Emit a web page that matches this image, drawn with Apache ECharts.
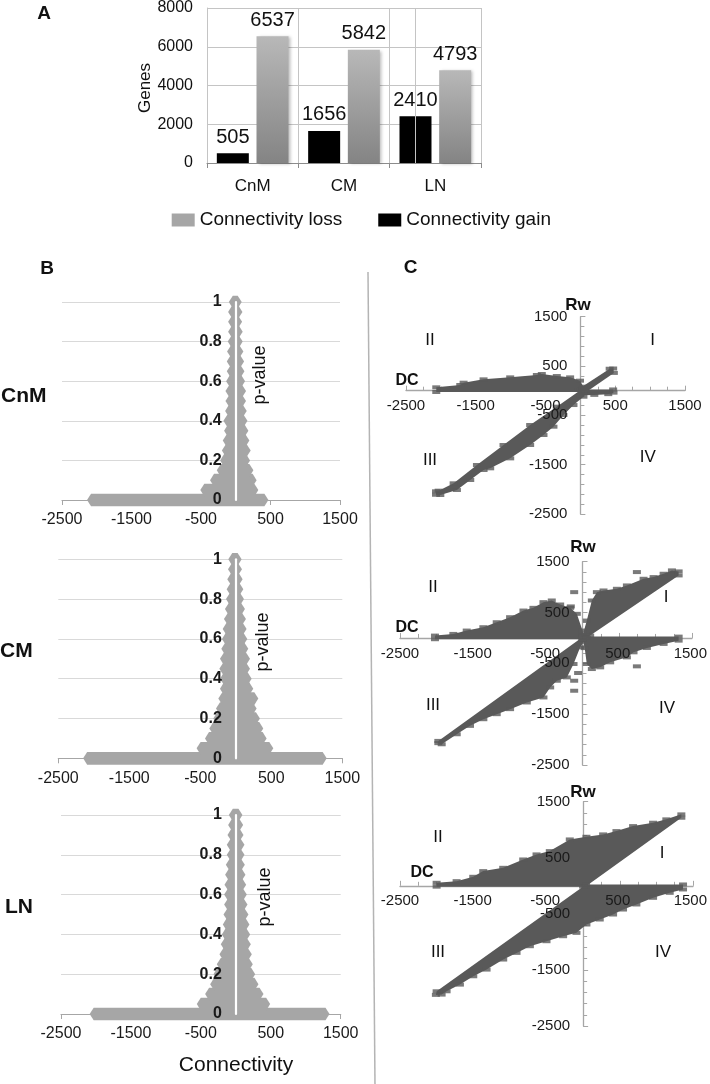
<!DOCTYPE html>
<html><head><meta charset="utf-8">
<script src="https://cdn.jsdelivr.net/npm/echarts@6/dist/echarts.min.js"></script>
<style>html,body{margin:0;padding:0;background:#fff}#c{width:710px;height:1084px}</style>
</head><body><div id="c"></div>
<script>
// ---------- Panel A data ----------
const categories = ['CnM', 'CM', 'LN'];
const gainValues = [505, 1656, 2410];     // Connectivity gain (black)
const lossValues = [6537, 5842, 4793];    // Connectivity loss (gray)
const genesTicks = [0, 2000, 4000, 6000, 8000];

// ---------- Panel B data (p-value rows: left / right extent of connectivity) ----------
const connTicks = [-2500, -1500, -500, 500, 1500];
const pTicks = [0, 0.2, 0.4, 0.6, 0.8, 1];
const pRows = [0, 0.05, 0.1, 0.15, 0.2, 0.25, 0.3, 0.35, 0.4, 0.45, 0.5, 0.55, 0.6, 0.65, 0.7, 0.75, 0.8, 0.85, 0.9, 0.95, 1];
const cnmLeft  = [-2140, -510, -370, -273, -225, -200, -187, -168, -177, -153, -148, -148, -139, -129, -129, -125, -115, -110, -110, -110, -100];
const cnmRight = [470, 325, 300, 254, 206, 215, 196, 182, 168, 158, 148, 148, 134, 125, 120, 110, 100, 100, 91, 96, 86];
const cmLeft   = [-2150, -552, -434, -373, -317, -279, -246, -223, -223, -232, -223, -204, -195, -185, -167, -153, -138, -129, -120, -110, -106];
const cmRight  = [1280, 528, 434, 387, 340, 293, 317, 246, 223, 200, 200, 176, 162, 152, 143, 129, 115, 106, 96, 87, 82];
const lnLeft   = [-2090, -558, -439, -367, -319, -272, -234, -215, -200, -186, -176, -167, -167, -162, -153, -143, -129, -129, -119, -110, -100];
const lnRight  = [1340, 491, 396, 324, 277, 243, 229, 215, 205, 195, 181, 167, 157, 148, 138, 129, 124, 124, 110, 105, 95];

// ---------- Panel C data (DC, Rw) regions ----------
const dcTicks = [-2500, -1500, -500, 500, 1500];
const rwTicks = [-2500, -1500, -500, 500, 1500];
const cnmQ2 = [[-2066,-27],[-2066,68],[-1722,115],[-1674,162],[-1388,230],[-1006,270],[-624,318],[-553,338],[-338,297],[-147,270],[-5,203],[44,81],[44,-27]];
const cnmQ1 = [[-30,30],[420,445],[470,450],[480,360],[80,-30]];
const cnmQ4 = [[0,25],[470,25],[475,-40],[400,-70],[200,-85],[0,-90]];
const cnmQ3 = [[30,40],[-338,-324],[-720,-696],[-1102,-1101],[-1483,-1507],[-1817,-1878],[-2032,-2027],[-2070,-2040],[-2070,-2110],[-2008,-2115],[-1770,-2014],[-1579,-1811],[-1388,-1608],[-1293,-1574],[-1006,-1372],[-720,-1101],[-529,-899],[-386,-730],[-243,-493],[-99,-291],[44,-122],[60,0]];
const cmQ2 = [[-2021,-25],[-2021,46],[-1769,79],[-1586,145],[-1358,211],[-1175,309],[-992,408],[-809,539],[-672,592],[-535,704],[-421,737],[-306,658],[-169,592],[-78,474],[0,145],[30,0],[0,-25]];
const cmQ1 = [[0,40],[59,342],[128,737],[197,901],[288,934],[471,967],[608,1033],[837,1164],[974,1197],[1111,1263],[1225,1329],[1317,1309],[1317,1230],[105,46],[40,0]];
const cmQ4 = [[0,26],[1317,26],[1317,-53],[1111,-118],[882,-197],[699,-283],[608,-382],[379,-480],[242,-579],[128,-612],[59,-513],[30,-200],[0,-30]];
const cmQ3 = [[40,60],[-1975,-2026],[-1975,-2070],[-1929,-2092],[-1723,-1895],[-1541,-1730],[-1358,-1599],[-1175,-1500],[-992,-1401],[-763,-1270],[-535,-1171],[-443,-974],[-352,-842],[-215,-776],[-123,-513],[-32,-184],[60,0]];
const cmOutliers = [[-114,901],[-160,620],[745,1296],[745,-559],[-114,-842],[-114,-1039],[-60,-690]];
const lnUpper = [[-2000,-15],[-2000,54],[-1727,83],[-1500,161],[-1364,262],[-1091,321],[-818,470],[-636,560],[-455,619],[-182,827],[45,875],[273,917],[455,976],[682,1065],[955,1125],[1136,1185],[1341,1274],[1341,1214],[30,-18],[0,-15]];
const lnLower = [[-2000,-1881],[40,24],[1364,24],[1364,-65],[1182,-125],[955,-214],[727,-333],[545,-423],[409,-512],[227,-601],[45,-690],[-91,-839],[-273,-899],[-500,-988],[-727,-1077],[-909,-1196],[-1091,-1315],[-1318,-1494],[-1500,-1613],[-1682,-1762],[-1864,-1881],[-1932,-1940],[-2010,-1945]];

// ---------- helpers ----------
const FONT = "'Liberation Sans', Arial, Helvetica, sans-serif";
const BGRAY = '#a6a6a6', CGRAY = '#595959', AXC = '#a6a6a6';
const rng = t => ({ min: t[0], max: t[t.length - 1], interval: t[1] - t[0] });
const plain = v => String(v);
const zeroFrac = t => (0 - t[0]) / (t[t.length - 1] - t[0]);

function rowRender(params, api) {
  const l = api.coord([api.value(0), api.value(1)]);
  const r = api.coord([api.value(2), api.value(1)]);
  const h = Math.abs(api.size([0, 0.032])[1]);
  const tip = 4;
  return { type: 'polygon', shape: { points: [[l[0], l[1]], [l[0] + tip, l[1] - h], [r[0] - tip, r[1] - h], [r[0], r[1]], [r[0] - tip, r[1] + h], [l[0] + tip, l[1] + h]] }, style: { fill: BGRAY } };
}
function polyRender(list) {
  return function (params, api) {
    const pts = list[params.dataIndex].map(p => api.coord(p));
    return { type: 'polygon', shape: { points: pts }, style: { fill: CGRAY } };
  };
}

const grids = [], xAxes = [], yAxes = [], series = [];
// Panel A
grids.push({ left: 207, top: 7, width: 274, height: 156 });
xAxes.push({ gridIndex: 0, type: 'category', data: categories,
  axisLine: { lineStyle: { color: '#8c8c8c', width: 1 } },
  axisTick: { show: true, length: 5, lineStyle: { color: '#8c8c8c' } },
  splitLine: { show: true, lineStyle: { color: '#c4c4c4' } },
  axisLabel: { fontSize: 17, color: '#111', margin: 15, fontFamily: FONT } });
yAxes.push(Object.assign({ gridIndex: 0, type: 'value' }, rng(genesTicks), {
  axisLine: { show: true, lineStyle: { color: '#c4c4c4' } },
  axisTick: { show: false },
  splitLine: { show: true, lineStyle: { color: '#c4c4c4' } },
  axisLabel: { fontSize: 16, color: '#111', margin: 14, fontFamily: FONT, formatter: plain } }));
series.push({ name: 'Connectivity gain', type: 'bar', xAxisIndex: 0, yAxisIndex: 0, data: gainValues,
  barWidth: 32, barGap: '24%', itemStyle: { color: '#000' },
  label: { show: true, position: 'top', distance: 6, fontSize: 20, color: '#111', fontFamily: FONT },
  markLine: { silent: true, symbol: 'none', label: { show: false }, lineStyle: { color: '#c4c4c4', type: 'solid', width: 1 },
    data: [{ xAxis: categories[2] }] } });
series.push({ name: 'Connectivity loss', type: 'bar', xAxisIndex: 0, yAxisIndex: 0, data: lossValues,
  barWidth: 32, barGap: '24%',
  itemStyle: { color: new echarts.graphic.LinearGradient(0, 0, 0, 1, [{ offset: 0, color: '#b8b8b8' }, { offset: 1, color: '#848484' }]),
    shadowColor: 'rgba(0,0,0,0.25)', shadowBlur: 3, shadowOffsetX: 2, shadowOffsetY: 1 },
  label: { show: true, position: 'top', distance: 6, fontSize: 20, color: '#111', fontFamily: FONT } });

// Panel B
const bPanels = [
  { box: { left: 62, top: 302, width: 278, height: 198 }, L: cnmLeft, R: cnmRight },
  { box: { left: 58.3, top: 559.3, width: 284, height: 199 }, L: cmLeft, R: cmRight },
  { box: { left: 61, top: 815, width: 279.7, height: 199 }, L: lnLeft, R: lnRight }
];
bPanels.forEach(bp => {
  const gi = grids.length;
  grids.push(bp.box);
  const xi = xAxes.length, yi = yAxes.length;
  xAxes.push(Object.assign({ gridIndex: gi, type: 'value' }, rng(connTicks), {
    axisLine: { onZero: false, lineStyle: { color: AXC, width: 1.2 } },
    axisTick: { show: true, length: 5, lineStyle: { color: AXC } },
    splitLine: { show: false },
    axisLabel: { fontSize: 16, color: '#1a1a1a', margin: 12, fontFamily: FONT, formatter: plain } }));
  yAxes.push(Object.assign({ gridIndex: gi, type: 'value' }, rng(pTicks), {
    axisLine: { show: false, onZero: false }, axisTick: { show: false }, axisLabel: { show: false },
    splitLine: { show: true, lineStyle: { color: '#d9d9d9', width: 1.2 } } }));
  series.push({ type: 'custom', xAxisIndex: xi, yAxisIndex: yi, renderItem: rowRender,
    encode: { x: [0, 2], y: 1 },
    data: pRows.map((p, i) => [bp.L[i], p, bp.R[i]]) });
  const go = grids.length;
  grids.push(bp.box);
  xAxes.push(Object.assign({ gridIndex: go, type: 'value', show: false }, rng(connTicks)));
  yAxes.push(Object.assign({ gridIndex: go, type: 'value', z: 10, position: 'left',
    offset: -bp.box.width * zeroFrac(connTicks) }, rng(pTicks), {
    axisLine: { show: true, onZero: false, lineStyle: { color: '#ffffff', width: 2.2 } },
    axisTick: { show: false }, splitLine: { show: false },
    axisLabel: { fontSize: 16, fontWeight: 'bold', color: '#1a1a1a', margin: 14, fontFamily: FONT, formatter: plain } }));
});

// Panel C
const cPanels = [
  { box: { left: 406, top: 316.7, width: 279, height: 197.3 }, polys: [cnmQ2, cnmQ1, cnmQ4, cnmQ3], out: [] },
  { box: { left: 400, top: 561.7, width: 292, height: 203.3 }, polys: [cmQ2, cmQ1, cmQ4, cmQ3], out: cmOutliers },
  { box: { left: 400, top: 801.7, width: 293, height: 224.3 }, polys: [lnUpper, lnLower], out: [] }
];
cPanels.forEach(cp => {
  const gi = grids.length;
  grids.push(cp.box);
  const xi = xAxes.length, yi = yAxes.length;
  xAxes.push(Object.assign({ gridIndex: gi, type: 'value' }, rng(dcTicks), {
    axisLine: { onZero: true, lineStyle: { color: AXC, width: 1.3 } },
    axisTick: { show: true, inside: true, length: 5, lineStyle: { color: AXC } },
    minorTick: { show: true, splitNumber: 4, length: 4, lineStyle: { color: AXC } },
    splitLine: { show: false }, axisLabel: { show: false } }));
  yAxes.push(Object.assign({ gridIndex: gi, type: 'value' }, rng(rwTicks), {
    axisLine: { show: true, onZero: true, lineStyle: { color: AXC, width: 1.3 } },
    axisTick: { show: true, inside: true, length: 5, lineStyle: { color: AXC } },
    minorTick: { show: true, splitNumber: 5, length: 4, lineStyle: { color: AXC } },
    splitLine: { show: false }, axisLabel: { show: false } }));
  series.push({ type: 'custom', xAxisIndex: xi, yAxisIndex: yi, renderItem: polyRender(cp.polys),
    encode: { x: 0, y: 1 }, data: cp.polys.map(p => p[0]) });
  const edgePts = [];
  cp.polys.forEach(p => p.forEach(v => edgePts.push(v)));
  series.push({ type: 'scatter', xAxisIndex: xi, yAxisIndex: yi, symbol: 'rect', symbolSize: [8, 4],
    itemStyle: { color: CGRAY }, data: edgePts.concat(cp.out) });
  const go = grids.length;
  grids.push(cp.box);
  xAxes.push(Object.assign({ gridIndex: go, type: 'value', z: 10, position: 'bottom',
    offset: -cp.box.height * zeroFrac(rwTicks) }, rng(dcTicks), {
    axisLine: { show: false, onZero: false },
    axisTick: { show: false }, splitLine: { show: false },
    axisLabel: { fontSize: 15, color: '#1a1a1a', margin: 8, fontFamily: FONT, formatter: plain } }));
  yAxes.push(Object.assign({ gridIndex: go, type: 'value', z: 10, position: 'left',
    offset: -cp.box.width * zeroFrac(dcTicks) }, rng(rwTicks), {
    axisLine: { show: false, onZero: false },
    axisTick: { show: false }, splitLine: { show: false },
    axisLabel: { fontSize: 15, color: '#1a1a1a', margin: 13, fontFamily: FONT, formatter: plain } }));
});

function txt(x, y, s, size, bold, extra) {
  return Object.assign({ type: 'text', x: x, y: y, z: 100,
    style: { text: s, font: (bold ? 'bold ' : '') + size + 'px ' + FONT, fill: '#111',
      align: 'center', verticalAlign: 'middle', textAlign: 'center', textVerticalAlign: 'middle' } }, extra || {});
}
function ltxt(x, y, s, size, bold) {
  const t = txt(x, y, s, size, bold);
  t.style.align = 'left'; t.style.textAlign = 'left';
  return t;
}
const graphics = [
  txt(44, 13.5, 'A', 19, true),
  txt(145, 88, 'Genes', 17, false, { rotation: Math.PI / 2 }),
  txt(47, 269, 'B', 19, true),
  txt(410.5, 267.5, 'C', 19, true),
  ltxt(1, 396, 'CnM', 21, true),
  ltxt(0, 651, 'CM', 21, true),
  ltxt(5, 907.5, 'LN', 21, true),
  txt(260, 375, 'p-value', 18, false, { rotation: Math.PI / 2 }),
  txt(263, 642, 'p-value', 18, false, { rotation: Math.PI / 2 }),
  txt(265, 897, 'p-value', 18, false, { rotation: Math.PI / 2 }),
  txt(236, 1065, 'Connectivity', 21, false),
  txt(578, 305, 'Rw', 17, true), txt(407, 381, 'DC', 16, true),
  txt(430, 340, 'II', 17), txt(652.7, 340, 'I', 17), txt(430, 460, 'III', 17), txt(647.7, 457, 'IV', 17),
  txt(583, 547, 'Rw', 17, true), txt(407, 628, 'DC', 16, true),
  txt(433, 587, 'II', 17), txt(666, 597, 'I', 17), txt(433, 705, 'III', 17), txt(667, 708, 'IV', 17),
  txt(583, 792, 'Rw', 17, true), txt(422, 873, 'DC', 16, true),
  txt(438, 837, 'II', 17), txt(662, 853, 'I', 17), txt(438, 952, 'III', 17), txt(663, 952, 'IV', 17),
  { type: 'line', z: 100, shape: { x1: 368, y1: 272, x2: 375, y2: 1084 }, style: { stroke: '#b4b4b4', lineWidth: 1.5 } }
];

const chart = echarts.init(document.getElementById('c'), null, { renderer: 'canvas' });
chart.setOption({
  animation: false,
  backgroundColor: '#fff',
  textStyle: { fontFamily: FONT },
  legend: { left: 166.7, top: 205, itemWidth: 23, itemHeight: 13, itemGap: 36, icon: 'rect', selectedMode: false,
    textStyle: { fontSize: 19, color: '#111', fontFamily: FONT, lineHeight: 20 },
    data: [{ name: 'Connectivity loss', itemStyle: { color: '#a6a6a6', shadowBlur: 0, shadowOffsetX: 0, shadowOffsetY: 0 } }, { name: 'Connectivity gain' }] },
  grid: grids, xAxis: xAxes, yAxis: yAxes, series: series, graphic: graphics
});
</script></body></html>
